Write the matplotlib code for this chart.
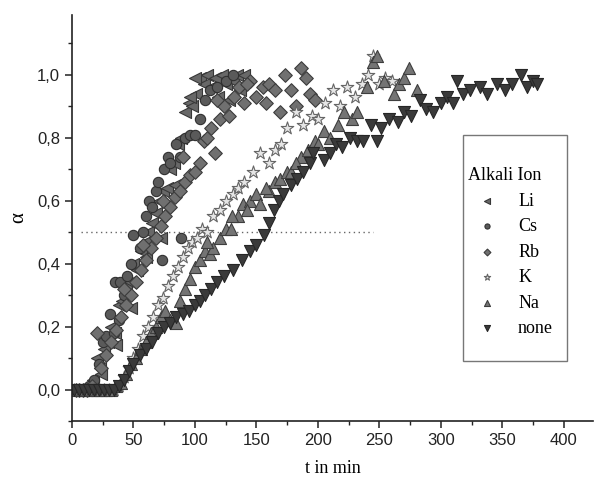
import matplotlib
matplotlib.use("Agg")
import matplotlib.pyplot as plt
from matplotlib.patches import Rectangle
from matplotlib.ticker import MultipleLocator, FuncFormatter

# ---------------- data ----------------
li_t = [2, 5, 8, 11, 14, 17, 20, 23, 26, 29, 32, 35, 38, 41, 44, 47, 50, 53, 56, 59, 62, 65, 68, 71,
        74, 77, 80, 83, 86, 89, 92, 95, 98, 101, 104, 107, 110, 113, 116, 119, 122, 125, 128, 131,
        134, 137, 140, 24, 36, 48, 60, 72, 84, 96, 100]
li_a = [0, 0, 0, 0, 0, 0.03, 0.10, 0.07, 0.13, 0.15, 0.20, 0.18, 0.27, 0.28, 0.33, 0.34, 0.40, 0.38,
        0.44, 0.47, 0.50, 0.53, 0.56, 0.60, 0.63, 0.64, 0.70, 0.72, 0.78, 0.80, 0.88, 0.91, 0.90, 0.94,
        0.99, 0.97, 1.00, 0.96, 0.99, 0.93, 1.00, 0.97, 0.92, 0.98, 1.00, 0.95, 1.00,
        0.05, 0.14, 0.26, 0.42, 0.48, 0.65, 0.93, 0.99]

cs_t = [2, 4, 6, 8, 10, 12, 14, 18, 22, 25, 28, 31, 34, 35, 38, 39, 42, 45, 48, 50, 55, 58, 60, 63,
        65, 68, 70, 73, 75, 78, 80, 85, 88, 89, 92, 96, 100, 104, 108, 112, 118, 125, 131]
cs_a = [0, 0, 0, 0, 0, 0, 0.01, 0.03, 0.08, 0.15, 0.17, 0.24, 0.18, 0.34, 0.22, 0.34, 0.30, 0.36,
        0.40, 0.49, 0.45, 0.50, 0.55, 0.60, 0.58, 0.63, 0.66, 0.41, 0.70, 0.74, 0.72, 0.78, 0.74, 0.48,
        0.80, 0.81, 0.81, 0.86, 0.92, 0.95, 0.96, 0.98, 1.00]

rb_t = [3, 6, 9, 12, 16, 20, 24, 28, 32, 36, 40, 44, 48, 52, 56, 60, 64, 68, 72, 76, 80, 84, 88, 92,
        96, 100, 104, 107, 110, 113, 116, 120, 124, 128, 132, 136, 140, 145, 150, 155, 160, 165, 169,
        173, 178, 182, 186, 190, 194, 198, 42, 58, 74, 90, 118, 142, 158]
rb_a = [0, 0, 0, 0, 0.01, 0.18, 0.07, 0.11, 0.15, 0.19, 0.23, 0.27, 0.30, 0.34, 0.38, 0.41, 0.45,
        0.48, 0.52, 0.55, 0.58, 0.61, 0.63, 0.66, 0.68, 0.69, 0.72, 0.79, 0.80, 0.83, 0.75, 0.86, 0.90,
        0.87, 0.93, 0.96, 0.91, 0.98, 0.93, 0.96, 0.97, 0.95, 0.88, 1.00, 0.95, 0.90, 1.02, 0.99, 0.94,
        0.92, 0.32, 0.46, 0.60, 0.74, 0.92, 0.97, 0.91]

k_t = [2, 6, 10, 14, 18, 22, 26, 30, 34, 38, 42, 46, 50, 54, 58, 62, 66, 70, 74, 78, 82, 86, 90, 94,
       98, 102, 106, 110, 115, 120, 125, 131, 135, 140, 147, 153, 160, 165, 170, 175, 182, 188, 195,
       200, 206, 212, 218, 224, 230, 236, 241, 245, 250, 255, 260]
k_a = [0, 0, 0, 0, 0, 0, 0, 0, 0, 0.01, 0.04, 0.07, 0.10, 0.13, 0.17, 0.20, 0.23, 0.27, 0.29, 0.33,
       0.36, 0.39, 0.42, 0.45, 0.47, 0.48, 0.51, 0.50, 0.55, 0.57, 0.60, 0.62, 0.64, 0.66, 0.69, 0.75,
       0.72, 0.76, 0.78, 0.83, 0.88, 0.84, 0.87, 0.86, 0.91, 0.95, 0.90, 0.96, 0.93, 0.97, 1.00, 1.06,
       0.97, 0.99, 0.98]

na_t = [4, 8, 12, 16, 20, 24, 28, 32, 36, 40, 44, 48, 52, 56, 60, 64, 68, 72, 76, 80, 85, 88, 92,
        96, 100, 104, 108, 112, 115, 120, 125, 129, 135, 139, 145, 150, 153, 160, 165, 169, 175, 178,
        186, 192, 198, 205, 210, 216, 221, 228, 232, 240, 245, 248, 254, 262, 266, 270, 274, 281,
        110, 130, 142, 158, 182, 200]
na_a = [0, 0, 0, 0, 0, 0, 0, 0, 0.01, 0.02, 0.05, 0.08, 0.10, 0.13, 0.15, 0.18, 0.20, 0.23, 0.25,
        0.22, 0.21, 0.28, 0.32, 0.35, 0.39, 0.41, 0.44, 0.43, 0.45, 0.48, 0.51, 0.51, 0.55, 0.59, 0.60,
        0.62, 0.59, 0.63, 0.66, 0.67, 0.69, 0.69, 0.74, 0.76, 0.79, 0.82, 0.80, 0.84, 0.88, 0.86, 0.88,
        0.96, 1.04, 1.06, 0.98, 0.94, 0.97, 0.99, 1.02, 0.95,
        0.47, 0.55, 0.57, 0.64, 0.72, 0.78]

none_t = [2, 6, 10, 14, 18, 22, 26, 30, 34, 38, 42, 46, 50, 55, 60, 65, 70, 75, 80, 85, 90, 95, 100,
          104, 108, 113, 118, 124, 131, 138, 145, 150, 156, 160, 164, 168, 172, 178, 183, 188, 194,
          196, 205, 210, 215, 220, 226, 232, 237, 243, 248, 251, 258, 265, 270, 276, 283, 288, 294,
          300, 305, 310, 313, 318, 324, 332, 338, 346, 352, 358, 365, 370, 375, 378]
none_a = [0, 0, 0, 0, 0, 0, 0, 0, 0, 0.01, 0.03, 0.06, 0.08, 0.11, 0.13, 0.15, 0.18, 0.20, 0.21,
          0.23, 0.24, 0.25, 0.27, 0.28, 0.30, 0.32, 0.34, 0.36, 0.38, 0.41, 0.44, 0.46, 0.49, 0.53,
          0.57, 0.60, 0.62, 0.65, 0.67, 0.69, 0.72, 0.75, 0.73, 0.75, 0.78, 0.77, 0.80, 0.79, 0.79,
          0.84, 0.79, 0.83, 0.86, 0.85, 0.88, 0.87, 0.92, 0.89, 0.88, 0.91, 0.93, 0.91, 0.98, 0.94,
          0.95, 0.96, 0.94, 0.97, 0.95, 0.97, 1.00, 0.96, 0.98, 0.97]

labels = ["Li", "Cs", "Rb", "K", "Na", "none"]
series_t = [li_t, cs_t, rb_t, k_t, na_t, none_t]
series_a = [li_a, cs_a, rb_a, k_a, na_a, none_a]

half_t = [7, 245]
half_a = [0.5, 0.5]

# ---------------- styles ----------------
markers = ["<", "o", "D", "*", "^", "v"]
faces = ["#686868", "#5a5a5a", "#707070", "#e6e6e6", "#747474", "#3a3a3a"]
edges = ["#383838", "#303030", "#3c3c3c", "#666666", "#3e3e3e", "#262626"]
sizes = [75, 55, 48, 90, 75, 75]

fig = plt.figure(figsize=(5.95, 4.79), dpi=100)
ax = fig.add_axes([0.121, 0.121, 0.876, 0.848])

ax.plot(half_t, half_a, linestyle=(0, (1, 2.5)), color="#666666", lw=1.0, zorder=1)

handles = []
for t, a, lab, m, fc, ec, s in zip(series_t, series_a, labels, markers, faces, edges, sizes):
    h = ax.scatter(t, a, marker=m, s=s, facecolor=fc, edgecolor=ec, linewidths=0.8,
                   label=lab, zorder=2)
    handles.append(h)

ax.set_xlim(0, 424)
ax.set_ylim(-0.1, 1.19)
ax.spines["top"].set_visible(False)
ax.spines["right"].set_visible(False)
for sp in ["left", "bottom"]:
    ax.spines[sp].set_linewidth(1.2)
    ax.spines[sp].set_color("#222222")

ax.xaxis.set_major_locator(MultipleLocator(50))
ax.xaxis.set_minor_locator(MultipleLocator(25))
ax.yaxis.set_major_locator(MultipleLocator(0.2))
ax.yaxis.set_minor_locator(MultipleLocator(0.1))
ax.yaxis.set_major_formatter(FuncFormatter(lambda v, p: f"{v:.1f}".replace(".", ",").replace("-0,0", "0,0")))
ax.set_yticks([0, 0.2, 0.4, 0.6, 0.8, 1.0])
ax.tick_params(which="major", direction="out", length=5, width=1.1, labelsize=12,
               colors="#222222")
ax.tick_params(which="minor", direction="out", length=3, width=1.0, colors="#222222")
for lbl in ax.get_xticklabels() + ax.get_yticklabels():
    lbl.set_family("Liberation Sans")

ax.set_xlabel("t in min", family="Liberation Serif", fontsize=13, labelpad=9)
ax.set_ylabel("α", family="Liberation Serif", fontsize=15, labelpad=6)

leg = ax.legend(handles=handles, labels=labels, title="Alkali Ion", loc="upper left",
                bbox_to_anchor=(0.745, 0.643), frameon=False,
                prop={"family": "Liberation Serif", "size": 13},
                title_fontproperties={"family": "Liberation Serif", "size": 13},
                alignment="left", markerscale=0.5, handletextpad=0.6, labelspacing=0.47,
                borderaxespad=0, handlelength=2.2)
ax.add_patch(Rectangle((0.75, 0.148), 0.2, 0.556, transform=ax.transAxes, fill=False,
                       edgecolor="#777777", lw=1.0, clip_on=False))

fig.savefig("out.png", dpi=100)
